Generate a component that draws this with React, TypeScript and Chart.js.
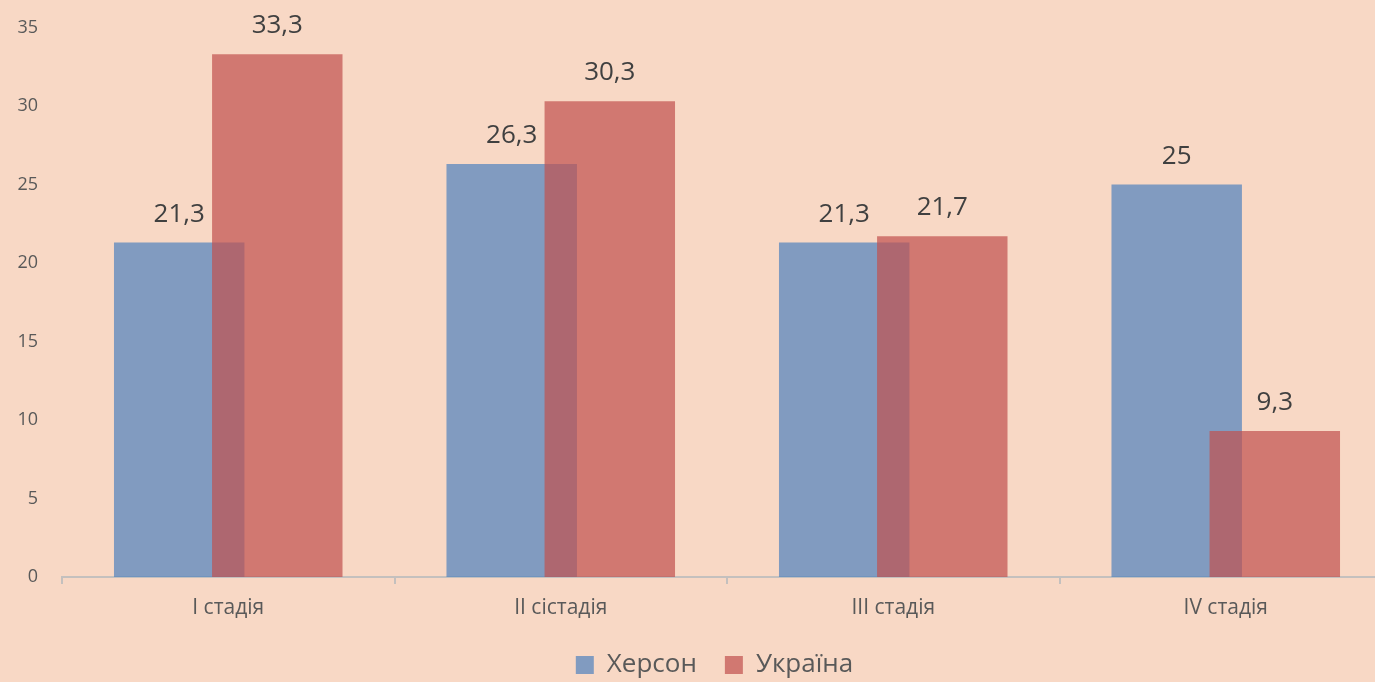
import React, { useEffect, useRef } from 'react';
import { Chart, registerables } from 'chart.js';

Chart.register(...registerables);

const categories = ['I стадія', 'II сістадія', 'III стадія', 'IV стадія'];
const seriesNames = ['Херсон', 'Україна'];
const khersonValues = [21.3, 26.3, 21.3, 25];
const ukraineValues = [33.3, 30.3, 21.7, 9.3];
const yMin = 0;
const yMax = 35;
const yStep = 5;

const FONT = "'Open Sans', sans-serif";
const BG = '#F8D8C5';
const BLUE = 'rgba(79,129,189,0.7)';
const RED = 'rgba(192,80,77,0.7)';

const fmt = (v: number) => String(v).replace('.', ',');

const topLayerAndLabels = {
  id: 'topLayerAndLabels',
  beforeDatasetDraw(chart: any, args: any) {
    if (args.index === 1 && !chart.$drawingRed) return false;
    return undefined;
  },
  afterDatasetsDraw(chart: any) {
    const ctx = chart.ctx;
    const redMeta = chart.getDatasetMeta(1);
    chart.$drawingRed = true;
    ctx.save();
    redMeta.controller.draw();
    ctx.restore();
    chart.$drawingRed = false;

    ctx.save();
    ctx.font = `26px ${FONT}`;
    ctx.fillStyle = '#404040';
    ctx.textAlign = 'center';
    ctx.textBaseline = 'alphabetic';
    chart.data.datasets.forEach((ds: any, di: number) => {
      const meta = chart.getDatasetMeta(di);
      meta.data.forEach((el: any, i: number) => {
        ctx.fillText(fmt(ds.data[i]), el.x, el.y - 21);
      });
    });
    ctx.restore();
  },
};

export default function App() {
  const ref = useRef<HTMLCanvasElement>(null);

  useEffect(() => {
    if (!ref.current) return;
    const chart = new Chart(ref.current, {
      type: 'bar',
      data: {
        labels: categories,
        datasets: [
          {
            label: seriesNames[0],
            data: khersonValues,
            backgroundColor: BLUE,
            borderWidth: 0,
            categoryPercentage: 0.59,
            barPercentage: 1.33,
          },
          {
            label: seriesNames[1],
            data: ukraineValues,
            backgroundColor: RED,
            borderWidth: 0,
            categoryPercentage: 0.59,
            barPercentage: 1.33,
          },
        ],
      },
      options: {
        responsive: false,
        animation: false,
        devicePixelRatio: 1,
        layout: { padding: { left: 0, right: 0, top: 27.5, bottom: 0 } },
        plugins: {
          legend: {
            position: 'bottom',
            fullSize: true,
            labels: {
              font: { family: FONT, size: 26 },
              color: '#595959',
              boxWidth: 18,
              boxHeight: 18,
              padding: 28,
            },
          },
          tooltip: { enabled: false },
        },
        scales: {
          x: {
            offset: true,
            grid: {
              display: true,
              offset: true,
              drawOnChartArea: false,
              drawTicks: true,
              tickLength: 7,
              color: '#C4C0BE',
              lineWidth: 2,
            },
            border: { display: true, color: '#C4C0BE', width: 2 },
            ticks: {
              font: { family: FONT, size: 21 },
              color: '#595959',
              padding: 11,
            },
            afterFit(scale: any) {
              scale.height = 47;
            },
          },
          y: {
            min: yMin,
            max: yMax,
            grid: { display: false, drawTicks: true, tickLength: 20 },
            border: { display: false },
            ticks: {
              stepSize: yStep,
              font: { family: FONT, size: 18 },
              color: '#595959',
              padding: 4,
            },
            afterFit(scale: any) {
              scale.width = 62;
            },
          },
          ySpacer: {
            type: 'linear',
            position: 'right',
            display: true,
            grid: { display: false, drawTicks: false },
            border: { display: false },
            ticks: { display: false },
            afterFit(scale: any) {
              scale.width = 37;
            },
          },
        },
      },
      plugins: [topLayerAndLabels],
    });
    return () => chart.destroy();
  }, []);

  return (
    <div
      style={{
        position: 'fixed',
        left: 0,
        top: 0,
        width: 1375,
        height: 682,
        overflow: 'hidden',
        background: BG,
      }}
    >
      <canvas ref={ref} width={1429} height={688} style={{ display: 'block' }} />
    </div>
  );
}
